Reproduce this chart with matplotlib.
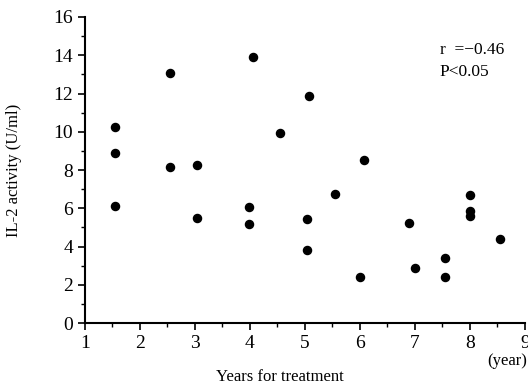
import matplotlib
matplotlib.use("Agg")
import matplotlib.pyplot as plt
from matplotlib.ticker import MultipleLocator

plt.rcParams['font.family'] = ['Liberation Serif', 'DejaVu Serif']

# Данні з графіка
years = [1.55, 1.55, 1.55, 2.55, 2.55, 3.04, 3.04, 4.05, 3.98, 3.98,
         4.55, 5.07, 5.04, 5.04, 5.55, 6.07, 6.0, 6.9, 7.0, 7.55, 7.55,
         8.0, 8.0, 8.0, 8.55]
il2 = [10.25, 8.9, 6.1, 13.05, 8.15, 8.25, 5.5, 13.9, 6.05, 5.2,
       9.95, 11.85, 5.45, 3.8, 6.75, 8.5, 2.4, 5.25, 2.9, 3.4, 2.4,
       6.7, 5.85, 5.6, 4.4]

fig = plt.figure(figsize=(5.28, 3.86), dpi=100)
ax = fig.add_axes([0.161, 0.163, 0.833, 0.793])

ax.scatter(years, il2, s=34, color='black', zorder=3, clip_on=False)

ax.set_xlim(1, 9)
ax.set_ylim(0, 16)
ax.xaxis.set_major_locator(MultipleLocator(1))
ax.xaxis.set_minor_locator(MultipleLocator(0.5))
ax.yaxis.set_major_locator(MultipleLocator(2))
ax.yaxis.set_minor_locator(MultipleLocator(1))

for s in ['top', 'right']:
    ax.spines[s].set_visible(False)
for s in ['left', 'bottom']:
    ax.spines[s].set_linewidth(1.5)

ax.tick_params(which='major', direction='out', length=5, width=1.2, labelsize=14)
ax.tick_params(which='minor', direction='out', length=3, width=1.0)

ax.set_ylabel("IL-2 activity (U/ml)", fontsize=12)
ax.yaxis.set_label_coords(-0.143, 0.5)
ax.set_xlabel("Years for treatment", fontsize=12)
ax.xaxis.set_label_coords(0.443, -0.15)

ax.text(7.45, 14.3, "r  =\u22120.46", fontsize=12.5, ha='left', va='center')
ax.text(7.45, 13.1, "P<0.05", fontsize=12.5, ha='left', va='center')
ax.text(9.04, -2.0, "(year)", fontsize=12, ha='right', va='center', clip_on=False)

fig.savefig("out.png", dpi=100)
